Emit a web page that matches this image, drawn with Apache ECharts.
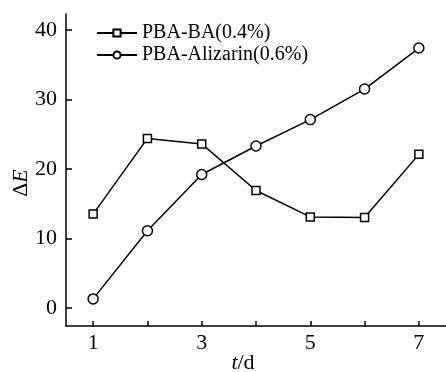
<!DOCTYPE html>
<html><head><meta charset="utf-8">
<script src="https://cdn.jsdelivr.net/npm/echarts@6/dist/echarts.min.js"></script>
<style>html,body{margin:0;padding:0;background:#fff}#c{width:446px;height:372px}</style>
</head><body><div id="c"></div>
<script>
const days = [1, 2, 3, 4, 5, 6, 7];
const seriesNames = ['PBA-BA(0.4%)', 'PBA-Alizarin(0.6%)'];
const baValues = [13.5, 24.4, 23.6, 16.9, 13.1, 13.0, 22.1];
const alizarinValues = [1.3, 11.1, 19.2, 23.3, 27.1, 31.5, 37.4];
const yTicks = [0, 10, 20, 30, 40];

const font = 'Liberation Serif';
const yMin = -2.6, yMax = 42.3;
const chart = echarts.init(document.getElementById('c'));
const axisLine = {show: true, onZero: false, lineStyle: {color: '#000', width: 1.5}};
chart.setOption({
  animation: false,
  backgroundColor: '#fff',
  grid: {left: 66, right: 0, top: 14, bottom: 46, outerBoundsMode: 'none', containLabel: false},
  legend: {
    orient: 'vertical', left: 91, top: 18, itemWidth: 40, itemHeight: 9, itemGap: 2,
    textStyle: {fontFamily: font, fontSize: 20, color: '#000'},
    data: seriesNames
  },
  xAxis: {
    type: 'category', boundaryGap: true, data: days,
    axisLine: axisLine,
    splitLine: {show: false},
    axisTick: {show: true, inside: true, length: 5, alignWithLabel: true, interval: 0, lineStyle: {color: '#000', width: 1.5}},
    axisLabel: {fontFamily: font, fontSize: 22, color: '#000', margin: 6, interval: 1},
    name: '{i|t}/d', nameLocation: 'middle', nameGap: 26, nameMoveOverlap: false,
    nameTextStyle: {fontFamily: font, fontSize: 22, color: '#000', padding: [0, 26, 0, 0],
      rich: {i: {fontFamily: font, fontStyle: 'italic', fontSize: 22, color: '#000'}}}
  },
  yAxis: [{
    type: 'value', min: yMin, max: yMax,
    axisLine: axisLine,
    splitLine: {show: false},
    axisTick: {show: false},
    axisLabel: {fontFamily: font, fontSize: 22, color: '#000', margin: 9, customValues: yTicks},
    name: 'Δ{i|E}', nameLocation: 'middle', nameGap: 34, nameRotate: 90, nameMoveOverlap: false,
    nameTextStyle: {fontFamily: font, fontSize: 22, color: '#000', padding: [0, 26, 0, 0],
      rich: {i: {fontFamily: font, fontStyle: 'italic', fontSize: 22, color: '#000'}}}
  }, {
    type: 'value', min: yMin, max: yMax, position: 'left', offset: -6,
    axisLine: {show: false},
    splitLine: {show: false},
    axisLabel: {show: false},
    axisTick: {show: true, inside: false, length: 6, customValues: yTicks, lineStyle: {color: '#000', width: 1.5}}
  }],
  series: [
    {name: seriesNames[0], type: 'line', data: baValues, yAxisIndex: 0,
     symbol: 'rect', symbolSize: 8, showAllSymbol: true,
     lineStyle: {color: '#000', width: 1.5},
     itemStyle: {color: '#fff', borderColor: '#000', borderWidth: 1.5}},
    {name: seriesNames[1], type: 'line', data: alizarinValues, yAxisIndex: 1,
     symbol: 'circle', symbolSize: 10, showAllSymbol: true,
     lineStyle: {color: '#000', width: 1.5},
     itemStyle: {color: '#fff', borderColor: '#000', borderWidth: 1.5}}
  ]
});
</script></body></html>
